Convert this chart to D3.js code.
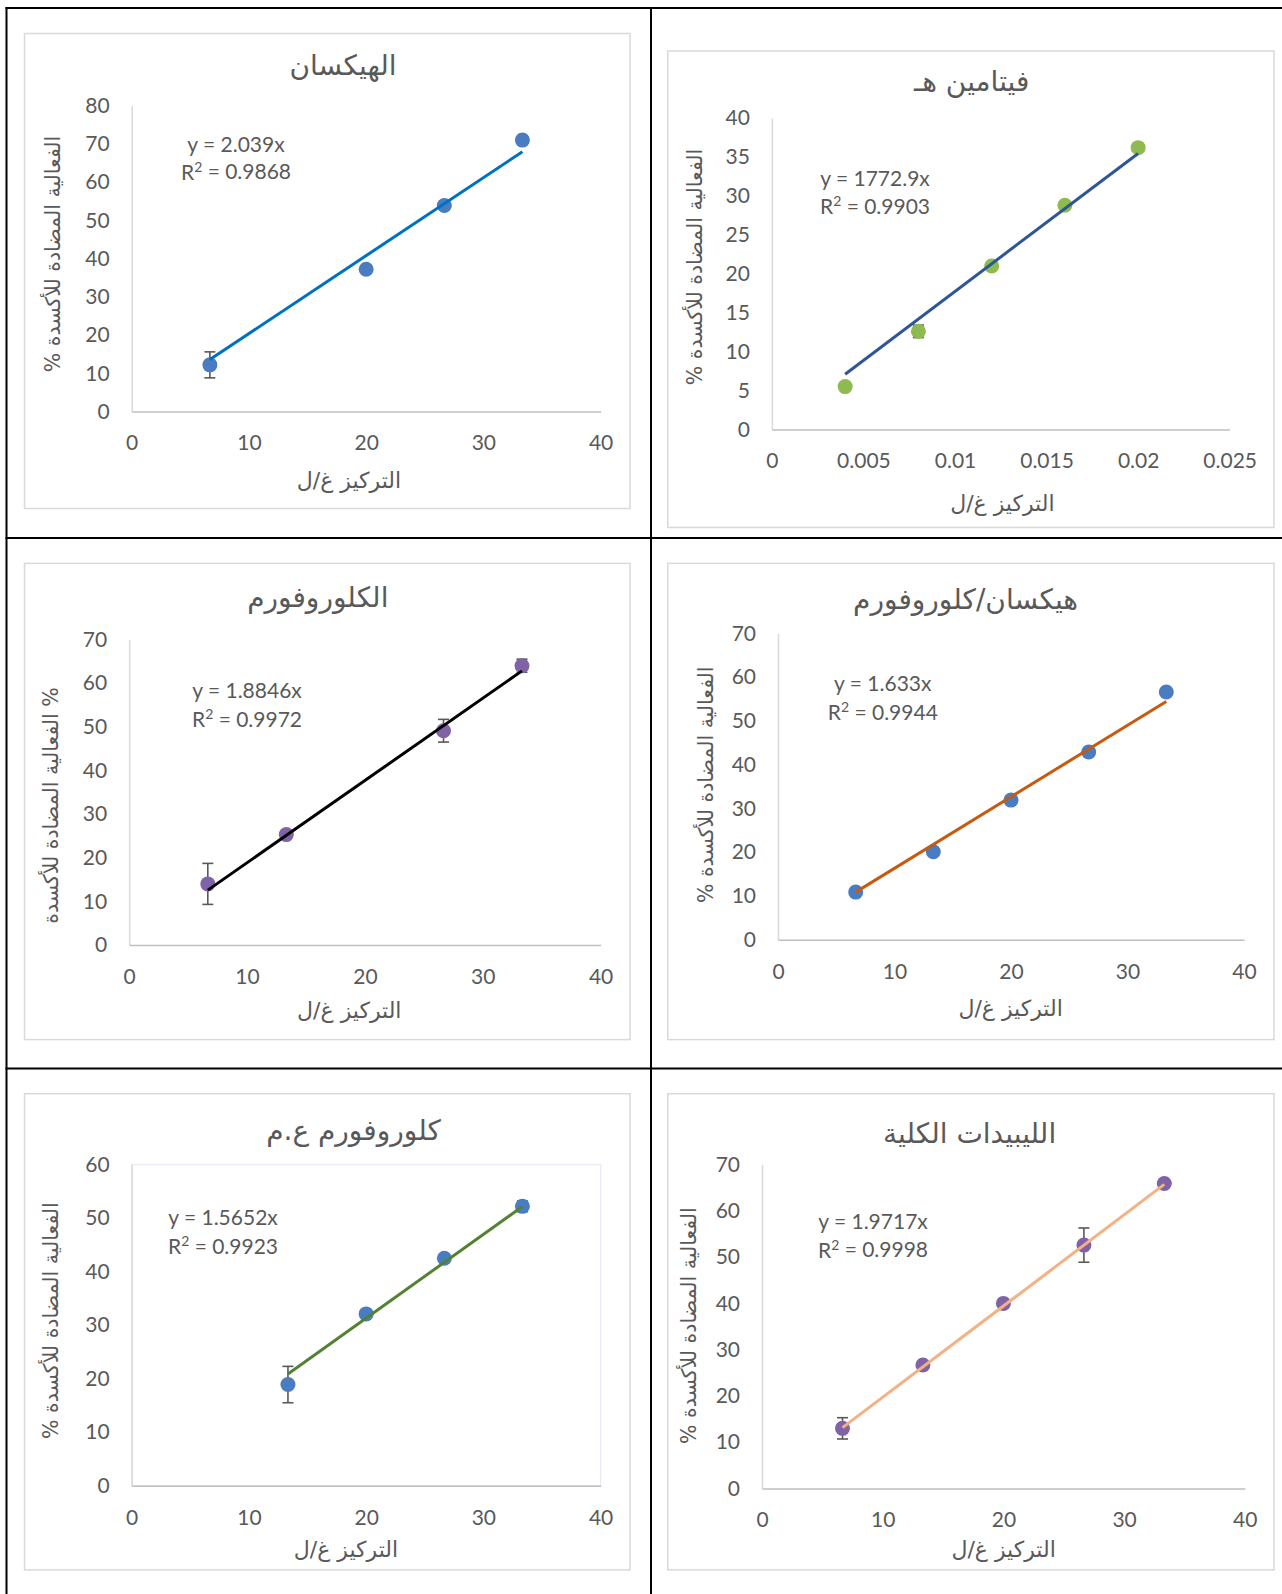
<!DOCTYPE html>
<html>
<head>
<meta charset="utf-8">
<script src="https://cdn.jsdelivr.net/npm/d3@7"></script>
<style>
  body { margin: 0; background: #fff; }
  svg { display: block; }
</style>
</head>
<body>
<svg id="sheet" width="1282" height="1594"></svg>
<script>
// ---- data: antioxidant activity (%) against concentration (g/L) ----
const hexaneConc = [6.67, 20, 26.67, 33.33];
const hexaneAct  = [12.2, 37.2, 53.9, 71.0];
const hexaneErr  = [3.4, 0, 0, 0.9];

const vitEConc = [0.004, 0.008, 0.012, 0.016, 0.02];
const vitEAct  = [5.5, 12.6, 21.0, 28.8, 36.2];
const vitEErr  = [0, 0.8, 0, 0, 0];

const chloroConc = [6.67, 13.33, 26.67, 33.33];
const chloroAct  = [14.0, 25.3, 49.1, 64.0];
const chloroErr  = [4.7, 0.9, 2.6, 1.5];

const mixConc = [6.67, 13.33, 20, 26.67, 33.33];
const mixAct  = [10.9, 20.1, 31.9, 42.9, 56.6];
const mixErr  = [0, 0, 0, 0, 0];

const chloroAqConc = [13.33, 20, 26.67, 33.33];
const chloroAqAct  = [18.9, 32.1, 42.5, 52.2];
const chloroAqErr  = [3.4, 0, 0, 1.0];

const lipidConc = [6.67, 13.33, 20, 26.67, 33.33];
const lipidAct  = [13.0, 26.7, 40.0, 52.6, 65.9];
const lipidErr  = [2.3, 0, 0, 3.7, 0];

// trendline fits (y = a·x) and R²
const slopes = [2.039, 1772.9, 1.8846, 1.633, 1.5652, 1.9717];
const slopeLabels = ["2.039", "1772.9", "1.8846", "1.633", "1.5652", "1.9717"];
const r2Labels = ["0.9868", "0.9903", "0.9972", "0.9944", "0.9923", "0.9998"];

// titles and tick values
const titles = ["الهيكسان", "فيتامين هـ", "الكلوروفورم", "هيكسان/كلوروفورم", "كلوروفورم ع.م", "الليبيدات الكلية"];
const xTitle = "التركيز غ/ل";
const yTitles = [
  "الفعالية المضادة للأكسدة  %",
  "الفعالية المضادة للأكسدة %",
  "% الفعالية المضادة للأكسدة",
  "الفعالية المضادة للأكسدة %",
  "الفعالية المضادة للأكسدة  %",
  "الفعالية المضادة للأكسدة  %"
];
const xTicksConc = [0, 10, 20, 30, 40];
const xTicksVitE = [0, 0.005, 0.01, 0.015, 0.02, 0.025];
const yTicks80 = [0, 10, 20, 30, 40, 50, 60, 70, 80];
const yTicks40 = [0, 5, 10, 15, 20, 25, 30, 35, 40];
const yTicks70 = [0, 10, 20, 30, 40, 50, 60, 70];
const yTicks60 = [0, 10, 20, 30, 40, 50, 60];

// ---- panel layout ----
const panels = [
  { xs: hexaneConc, ys: hexaneAct, es: hexaneErr, xt: xTicksConc, yt: yTicks80,
    marker: "#4a7cc1", line: "#0070c0",
    box: [24.5, 33.5, 630, 508.5], plot: [131.7, 600.6, 411.5, 105.7],
    title: [343, 65], eq: [236, 144.6, 172], xtl: [349, 480], ytl: [52.5, 254] },
  { xs: vitEConc, ys: vitEAct, es: vitEErr, xt: xTicksVitE, yt: yTicks40,
    marker: "#8dbb4f", line: "#2f5597",
    box: [667.8, 51, 1274, 527.5], plot: [771.9, 1229.7, 429.4, 118.1],
    title: [971.7, 81], eq: [875, 178.4, 206.6], xtl: [1002.4, 503.4], ytl: [695.3, 267] },
  { xs: chloroConc, ys: chloroAct, es: chloroErr, xt: xTicksConc, yt: yTicks70,
    marker: "#7f63a6", line: "#000000",
    box: [24.5, 563.4, 630, 1039.6], plot: [129.2, 600.6, 945, 639.5],
    title: [317.8, 597.1], eq: [247, 690.1, 719.4], xtl: [349.3, 1010.4], ytl: [50.5, 805.5] },
  { xs: mixConc, ys: mixAct, es: mixErr, xt: xTicksConc, yt: yTicks70,
    marker: "#4a7cc1", line: "#c55a11",
    box: [667.8, 563.4, 1274, 1039.6], plot: [778, 1244, 939.8, 633.3],
    title: [965.6, 598.9], eq: [882.8, 683.2, 712.5], xtl: [1010.6, 1008.7], ytl: [705.5, 784.8] },
  { xs: chloroAqConc, ys: chloroAqAct, es: chloroAqErr, xt: xTicksConc, yt: yTicks60,
    marker: "#4a7cc1", line: "#548235", plotFrame: true,
    box: [24.5, 1093.7, 630, 1569.9], plot: [131.7, 600.6, 1485.7, 1164.6],
    title: [353.5, 1129.8], eq: [223, 1217.4, 1246.6], xtl: [346, 1548.8], ytl: [50.5, 1320.6] },
  { xs: lipidConc, ys: lipidAct, es: lipidErr, xt: xTicksConc, yt: yTicks70,
    marker: "#7f63a6", line: "#f4b183",
    box: [667.8, 1093.7, 1274, 1569.9], plot: [762, 1244.8, 1488.5, 1164.6],
    title: [969.6, 1133.2], eq: [873, 1221.8, 1250], xtl: [1003.6, 1549.4], ytl: [689.1, 1325.7] }
];

const svg = d3.select("#sheet");
const textGrey = "#595959";
const latin = "Lato, 'Open Sans', sans-serif";
const arabic = "'DejaVu Sans', sans-serif";

// table grid around the six charts
const grid = svg.append("g").attr("stroke", "#000").attr("stroke-width", 2).attr("fill", "none");
grid.append("line").attr("x1", 5.5).attr("x2", 1282).attr("y1", 8).attr("y2", 8);
grid.append("line").attr("x1", 5.5).attr("x2", 1282).attr("y1", 538).attr("y2", 538);
grid.append("line").attr("x1", 5.5).attr("x2", 1282).attr("y1", 1068.5).attr("y2", 1068.5);
grid.append("line").attr("x1", 6.5).attr("x2", 6.5).attr("y1", 7).attr("y2", 1594);
grid.append("line").attr("x1", 651).attr("x2", 651).attr("y1", 7).attr("y2", 1594);

panels.forEach((p, i) => {
  const g = svg.append("g");
  const [bx0, by0, bx1, by1] = p.box;
  g.append("rect").attr("x", bx0).attr("y", by0).attr("width", bx1 - bx0).attr("height", by1 - by0)
    .attr("fill", "#fff").attr("stroke", "#d9d9d9").attr("stroke-width", 1.5);

  const [px0, px1, py0, py1] = p.plot;
  const x = d3.scaleLinear().domain([p.xt[0], p.xt[p.xt.length - 1]]).range([px0, px1]);
  const y = d3.scaleLinear().domain([p.yt[0], p.yt[p.yt.length - 1]]).range([py0, py1]);

  if (p.plotFrame) {
    g.append("rect").attr("x", px0).attr("y", py1).attr("width", px1 - px0).attr("height", py0 - py1)
      .attr("fill", "none").attr("stroke", "#e8edf5").attr("stroke-width", 1.5);
  }

  // axes
  const yAxis = g.append("g").attr("transform", `translate(${px0},0)`)
    .call(d3.axisLeft(y).tickValues(p.yt).tickSize(0).tickPadding(22).tickFormat(d => String(d)));
  yAxis.select(".domain").attr("stroke", "#d9d9d9").attr("stroke-width", 1.5);
  yAxis.selectAll("text").attr("font-family", latin).attr("font-size", 21).attr("fill", textGrey);

  const xAxis = g.append("g").attr("transform", `translate(0,${py0})`)
    .call(d3.axisBottom(x).tickValues(p.xt).tickSize(0).tickPadding(24).tickFormat(d => String(d)));
  xAxis.select(".domain").attr("stroke", "#bfbfbf").attr("stroke-width", 1.5);
  xAxis.selectAll("text").attr("font-family", latin).attr("font-size", 21).attr("fill", textGrey);

  const pts = p.xs.map((v, k) => ({ x: v, y: p.ys[k], e: p.es[k] }));

  // error bars
  const eb = g.append("g").attr("stroke", "#595959").attr("stroke-width", 1.6);
  pts.filter(d => d.e > 0).forEach(d => {
    const cx = x(d.x);
    eb.append("line").attr("x1", cx).attr("x2", cx).attr("y1", y(d.y - d.e)).attr("y2", y(d.y + d.e));
    eb.append("line").attr("x1", cx - 5.5).attr("x2", cx + 5.5).attr("y1", y(d.y - d.e)).attr("y2", y(d.y - d.e));
    eb.append("line").attr("x1", cx - 5.5).attr("x2", cx + 5.5).attr("y1", y(d.y + d.e)).attr("y2", y(d.y + d.e));
  });

  // markers
  g.append("g").selectAll("circle").data(pts).join("circle")
    .attr("cx", d => x(d.x)).attr("cy", d => y(d.y)).attr("r", 7.5).attr("fill", p.marker);

  // linear trendline through the origin, across the measured range
  const xmin = d3.min(p.xs), xmax = d3.max(p.xs);
  g.append("path")
    .datum([xmin, xmax])
    .attr("d", d3.line().x(v => x(v)).y(v => y(slopes[i] * v)))
    .attr("stroke", p.line).attr("stroke-width", 3).attr("fill", "none");

  // fit equation
  const eq = g.append("g").attr("font-family", latin).attr("font-size", 21).attr("fill", textGrey)
    .attr("text-anchor", "middle");
  eq.append("text").attr("x", p.eq[0]).attr("y", p.eq[1]).attr("dy", "0.36em").text(`y = ${slopeLabels[i]}x`);
  const r2 = eq.append("text").attr("x", p.eq[0]).attr("y", p.eq[2]).attr("dy", "0.36em");
  r2.append("tspan").text("R");
  r2.append("tspan").attr("font-size", 14).attr("dy", "-0.55em").text("2");
  r2.append("tspan").attr("dy", "0.36em").text(` = ${r2Labels[i]}`);

  // titles
  g.append("text").attr("x", p.title[0]).attr("y", p.title[1]).attr("dy", "0.35em")
    .attr("direction", "rtl").attr("text-anchor", "middle")
    .attr("font-family", arabic).attr("font-size", 28).attr("fill", textGrey).text(titles[i]);

  g.append("text").attr("x", p.xtl[0]).attr("y", p.xtl[1]).attr("dy", "0.35em")
    .attr("direction", "rtl").attr("text-anchor", "middle")
    .attr("font-family", arabic).attr("font-size", 22).attr("fill", textGrey).text(xTitle);

  g.append("text").attr("transform", `translate(${p.ytl[0]},${p.ytl[1]}) rotate(-90)`).attr("dy", "0.35em")
    .attr("direction", "rtl").attr("text-anchor", "middle")
    .attr("font-family", arabic).attr("font-size", 20.5).attr("fill", textGrey).text(yTitles[i]);
});
</script>
</body>
</html>
